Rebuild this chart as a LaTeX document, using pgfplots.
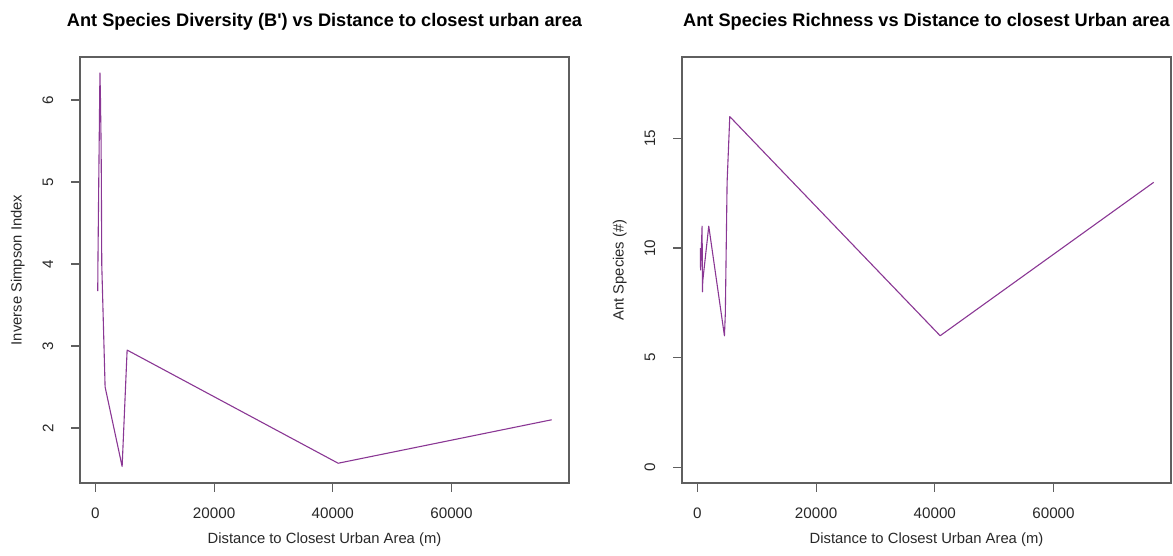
\documentclass[border=0pt]{standalone}
\usepackage{pgfplots}
\pgfplotsset{compat=1.18}
\usepackage{fontspec}
\setmainfont{Liberation Sans}
\definecolor{lineP}{RGB}{138,55,148}
\definecolor{boxG}{RGB}{95,95,95}
\definecolor{txt}{RGB}{40,40,40}
\pgfplotsset{
  rplot/.style={
    scale only axis, width=244.5pt, height=213pt, anchor=south west,
    axis line style={boxG, line width=0.6pt},
    tick style={boxG, line width=0.6pt},
    tick align=outside, major tick length=4.5pt,
    xtick pos=bottom, ytick pos=left,
    xmin=-2600, xmax=79800,
    xtick={0,20000,40000,60000},
    scaled ticks=false,
    /pgf/number format/.cd, fixed, precision=0, 1000 sep={}, assume math mode=true,
    /pgfplots/.cd,
    tick label style={font=\fontsize{7.6}{9}\selectfont, text=txt},
    xticklabel style={anchor=center, yshift=-10.5pt},
    yticklabel style={xshift=-11.5pt, rotate=90, anchor=center},
    label style={font=\fontsize{7.4}{9}\selectfont, text=txt},
    xlabel style={at={(axis description cs:0.5,-0.134)}, anchor=center},
    ylabel style={at={(axis description cs:-0.127,0.5)}, anchor=center, rotate=0},
    title style={at={(axis description cs:0.5,1.055)}, anchor=center, font=\fontsize{9.1}{11}\selectfont\bfseries},
  }
}
\begin{document}
\begin{tikzpicture}
\useasboundingbox (0,0) rectangle (586.5pt,278pt);
\begin{axis}[rplot, at={(40pt,36.5pt)},
  ymin=1.329, ymax=6.524, ytick={2,3,4,5,6},
  title={Ant Species Diversity (B\textquotesingle) vs Distance to closest urban area},
  xlabel={Distance to Closest Urban Area (m)},
  ylabel={Inverse Simpson Index}]
\addplot[lineP, line width=0.55pt, line join=round] coordinates {
(390,3.67) (420,4.0) (560,5.0) (760,6.33) (840,6.05) (950,5.5) (1000,5.0)
(1065,4.0) (1290,3.4) (1630,2.5) (4500,1.53) (5340,2.95) (40900,1.57) (76880,2.10)
};
\end{axis}
\begin{axis}[rplot, at={(341pt,36.5pt)},
  ymin=-0.72, ymax=18.72, ytick={0,5,10,15},
  title={Ant Species Richness vs Distance to closest Urban area},
  xlabel={Distance to Closest Urban Area (m)},
  ylabel={Ant Species (\#)}]
\addplot[lineP, line width=0.55pt, line join=round] coordinates {
(505,10) (505,9.5) (530,9) (786,11) (850,8) (898,8.5) (1910,11) (4550,6)
(4700,7) (4900,11) (5000,13) (5450,16) (40900,6) (76880,13)
};
\end{axis}
\end{tikzpicture}
\end{document}
